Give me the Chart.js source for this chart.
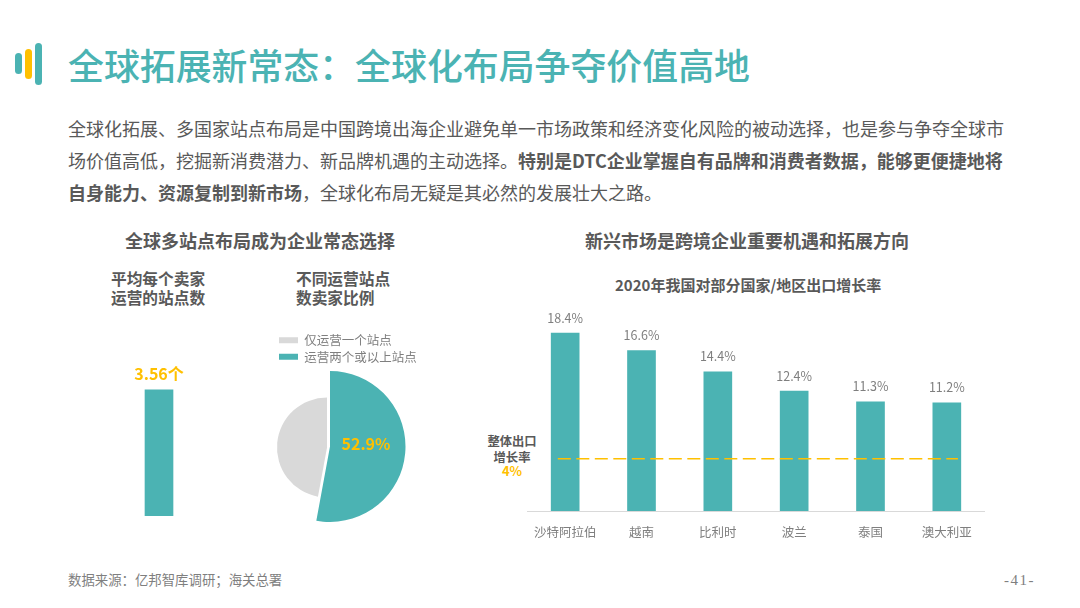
<!DOCTYPE html>
<html lang="zh"><head><meta charset="utf-8">
<script src="https://cdn.jsdelivr.net/npm/chart.js@4/dist/chart.umd.min.js"></script>
<style>
html,body{margin:0;padding:0;background:#fff;width:1080px;height:608px;overflow:hidden}
body{position:relative;font-family:"Noto Sans CJK SC","Noto Sans",sans-serif;color:#595959}
.t{position:absolute;white-space:nowrap;line-height:1}
.c{transform:translateX(-50%);text-align:center}
.logo{position:absolute;border-radius:4px;background:#4BB3B3}
b{font-weight:700}
.box{position:absolute}
canvas{display:block}
</style></head><body>
<div class="logo" style="left:15px;top:53px;width:7px;height:21px"></div>
<div class="logo" style="left:25px;top:49px;width:7px;height:30px;background:#FFC000"></div>
<div class="logo" style="left:35px;top:43px;width:7px;height:42px"></div>
<div class="t" style="left:68px;top:47px;font-size:35.9px;font-weight:500;color:#4BB3B3">全球拓展新常态：全球化布局争夺价值高地</div>
<div class="t" style="left:68px;top:119px;font-size:18px">全球化拓展、多国家站点布局是中国跨境出海企业避免单一市场政策和经济变化风险的被动选择，也是参与争夺全球市</div>
<div class="t" style="left:68px;top:151px;font-size:18px">场价值高低，挖掘新消费潜力、新品牌机遇的主动选择。<b>特别是DTC企业掌握自有品牌和消费者数据，能够更便捷地将</b></div>
<div class="t" style="left:68px;top:183px;font-size:18px"><b>自身能力、资源复制到新市场</b>，全球化布局无疑是其必然的发展壮大之路。</div>
<div class="t" style="left:125px;top:231px;font-size:18px;font-weight:700">全球多站点布局成为企业常态选择</div>
<div class="t" style="left:585px;top:231px;font-size:18px;font-weight:700">新兴市场是跨境企业重要机遇和拓展方向</div>
<div class="t" style="left:111px;top:271px;font-size:15.7px;font-weight:700">平均每个卖家</div>
<div class="t" style="left:111px;top:290px;font-size:15.7px;font-weight:700">运营的站点数</div>
<div class="t" style="left:296px;top:271px;font-size:15.7px;font-weight:700">不同运营站点</div>
<div class="t" style="left:296px;top:290px;font-size:15.7px;font-weight:700">数卖家比例</div>
<div class="t" style="left:615px;top:277px;font-size:15px;font-weight:700">2020年我国对部分国家/地区出口增长率</div>
<div class="t c" style="left:512px;top:435px;font-size:12.3px;font-weight:700">整体出口</div>
<div class="t c" style="left:512px;top:451px;font-size:12.3px;font-weight:700">增长率</div>
<div class="t c" style="left:512px;top:464px;font-size:13px;font-weight:700;color:#FFC000">4%</div>
<div class="t" style="left:68px;top:573px;font-size:13.4px;color:#7f7f7f">数据来源：亿邦智库调研；海关总署</div>
<div class="t" style="left:1004px;top:573px;font-size:15px;letter-spacing:1.5px;color:#7f7f7f;font-family:'Liberation Serif',serif">-41-</div>

<div class="box" style="left:109px;top:360px;width:100px;height:156px"><canvas id="single"></canvas></div>
<div class="box" style="left:240px;top:328px;width:180px;height:194px"><canvas id="pie"></canvas></div>
<div class="box" style="left:527px;top:310px;width:458px;height:236px"><canvas id="bars"></canvas></div>

<script>
const TEAL='#4BB3B3', GREY='#D9D9D9', GOLD='#FFC000', FONT='"Noto Sans CJK SC","Noto Sans",sans-serif';
const singleLabels=['平均每个卖家运营的站点数'];
const singleValues=[3.56];
const pieLabels=['仅运营一个站点','运营两个或以上站点'];
const pieValues=[47.1,52.9];
const countries=['沙特阿拉伯','越南','比利时','波兰','泰国','澳大利亚'];
const growth=[18.4,16.6,14.4,12.4,11.3,11.2];
const guideX=[2.4,98.5];
const guideY=[5.4,5.4];

Chart.defaults.animation=false;
Chart.defaults.responsive=true;
Chart.defaults.maintainAspectRatio=false;
Chart.defaults.font.family=FONT;

function valueLabels(suffix,font,color,gap){return{id:'valueLabels',afterDatasetsDraw(c){
  const ctx=c.ctx,meta=c.getDatasetMeta(0);ctx.save();ctx.font=font;ctx.fillStyle=color;
  ctx.textAlign='center';ctx.textBaseline='bottom';
  meta.data.forEach((el,i)=>ctx.fillText(c.data.datasets[0].data[i]+suffix,el.x,el.y-gap));ctx.restore();}};}

new Chart(document.getElementById('single'),{type:'bar',
  data:{labels:singleLabels,datasets:[{data:singleValues,backgroundColor:TEAL,barThickness:28}]},
  options:{layout:{padding:0},plugins:{legend:{display:false},tooltip:{enabled:false}},
    scales:{x:{display:false},y:{display:false,min:0,max:4.4}}},
  plugins:[valueLabels('个','700 16px '+FONT,GOLD,8)]});

const pieShape={id:'pieShape',
  afterLayout(c){c.legend.left+=35;c.legend.top+=2;},
  beforeDatasetsDraw(c){const g=c.getDatasetMeta(0).data[0];g.outerRadius=50;g.x-=3;g.y+=1;},
  afterDatasetsDraw(c){const ctx=c.ctx,t=c.getDatasetMeta(0).data[1];ctx.save();
    ctx.font='700 16px '+FONT;ctx.fillStyle=GOLD;ctx.textAlign='center';ctx.textBaseline='middle';
    ctx.fillText(pieValues[1].toFixed(1)+'%',t.x+36,t.y-3);ctx.restore();}};
new Chart(document.getElementById('pie'),{type:'pie',
  data:{labels:pieLabels,datasets:[{data:pieValues,backgroundColor:[GREY,TEAL],borderWidth:0}]},
  options:{rotation:-pieValues[0]*3.6,layout:{padding:0},
    plugins:{tooltip:{enabled:false},legend:{position:'top',align:'start',
      labels:{boxWidth:19,boxHeight:6,padding:4,color:'#7f7f7f',font:{size:12.5}}}}},
  plugins:[pieShape]});

new Chart(document.getElementById('bars'),{type:'bar',
  data:{labels:countries,datasets:[
    {type:'bar',data:growth,backgroundColor:TEAL,barThickness:28,grouped:false,order:2,xAxisID:'x',yAxisID:'y'},
    {type:'line',data:guideX.map((x,i)=>({x,y:guideY[i]})),xAxisID:'x2',yAxisID:'y',order:1,
     borderColor:GOLD,borderWidth:1.6,borderDash:[13,5.5],pointRadius:0}]},
  options:{layout:{padding:0},plugins:{legend:{display:false},tooltip:{enabled:false}},
    scales:{
      x:{type:'category',grid:{display:false},border:{color:'#D9D9D9',width:1},
         ticks:{color:'#7f7f7f',font:{size:12.5},maxRotation:0,padding:6,autoSkip:false}},
      x2:{type:'linear',display:false,min:0,max:100},
      y:{display:false,min:0,max:20.8}}},
  plugins:[valueLabels('%','12.5px '+FONT,'#7f7f7f',9)]});
</script>
</body></html>
